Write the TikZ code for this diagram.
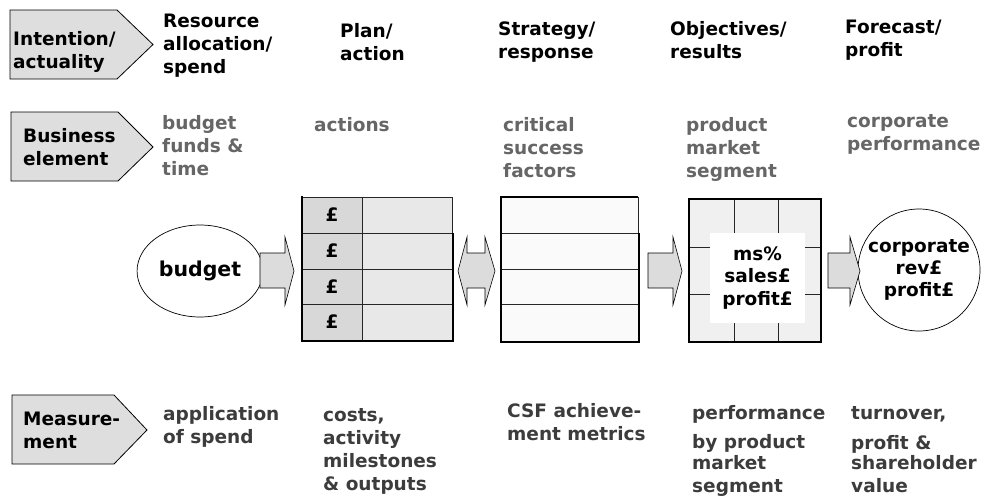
\documentclass[tikz,border=0pt]{standalone}
\usepackage{fontspec}
\setmainfont{DejaVu Sans}
\usetikzlibrary{shapes.geometric}

\begin{document}
\begin{tikzpicture}[x=1pt,y=-1pt,
  tag/.style={draw,fill=taggray,line width=0.8pt},
  txt/.style={font=\bfseries\fontsize{18.5}{23}\selectfont,anchor=base west,align=left,inner sep=0pt},
  elemtxt/.style={txt,text=elemgray},
  meastxt/.style={txt,text=measgray},
  blockarrow/.style={draw,fill=arrowgray,line width=0.6pt},
  thin/.style={draw=black!85,line width=0.9pt},
  thick/.style={line width=2.4pt}]
\definecolor{taggray}{HTML}{DEDEDE}
\definecolor{arrowgray}{HTML}{DCDCDC}
\definecolor{elemgray}{HTML}{666666}
\definecolor{measgray}{HTML}{3C3C3C}
\definecolor{pounddark}{HTML}{D8D8D8}
\definecolor{poundlight}{HTML}{E8E8E8}
\definecolor{csfwhite}{HTML}{FAFAFA}
\definecolor{pmsgray}{HTML}{F0F0F0}
\useasboundingbox (0,0) rectangle (984,501);

% row tags (texts sit on the baseline of their last line)
\draw[tag] (10,10) -- (117,10) -- (153,44.5) -- (117,79) -- (10,79) -- cycle;
\node[txt] (intention) at (13,68) {Intention/\\actuality};
\draw[tag] (11,112) -- (118,112) -- (153,147) -- (118,181) -- (11,181) -- cycle;
\node[txt] (business) at (23,165) {Business\\element};
\draw[tag] (12,395) -- (114,395) -- (147,430) -- (114,464) -- (12,464) -- cycle;
\node[txt] (measurement) at (23,448) {Measure-\\ment};

% column headings
\node[txt] (resource) at (163,73) {Resource\\allocation/\\spend};
\node[txt] (plan) at (340,60) {Plan/\\action};
\node[txt] (strategy) at (498,58) {Strategy/\\response};
\node[txt] (objectives) at (670,58) {Objectives/\\results};
\node[txt] (forecast) at (845,56) {Forecast/\\profit};

% business elements
\node[elemtxt] (funds) at (162,175) {budget\\funds \&\\time};
\node[elemtxt] (actions) at (314,131) {actions};
\node[elemtxt] (csf) at (503,177) {critical\\success\\factors};
\node[elemtxt] (pms) at (686,177) {product\\market\\segment};
\node[elemtxt] (corpperf) at (847,150) {corporate\\performance};

% measurements
\node[meastxt] (application) at (163,443) {application\\of spend};
\node[meastxt] (costs) at (323,490) {costs,\\activity\\milestones\\\& outputs};
\node[meastxt] (metrics) at (507,440) {CSF achieve-\\ment metrics};
\node[meastxt] (performance) at (692,492) {performance\\[6pt]by product\\[-2pt]market\\segment};
\node[meastxt] (turnover) at (851,492) {turnover,\\[7pt]profit \&\\[-3pt]shareholder\\value};

% budget and corporate
\node[draw,ellipse,line width=0.7pt,minimum width=106,minimum height=92,
  font=\bfseries\fontsize{20.5}{24}\selectfont] (budget) at (200,271) {budget};
\node[draw,circle,line width=0.7pt,minimum size=122,inner sep=0pt,align=center,
  font=\bfseries\fontsize{18.5}{22}\selectfont] (corporate) at (919,270) {corporate\\rev£\\profit£};

% plan table
\fill[pounddark] (302,197) rectangle (362,340);
\fill[poundlight] (362,197) rectangle (452,340);
\foreach \ya/\yb/\i in {197/233/1,233/269/2,269/304/3,304/340/4}
  {\draw[thin] (302,\ya) rectangle (362,\yb);
   \draw[thin] (362,\ya) rectangle (452,\yb);
   \node[font=\bfseries\fontsize{18.5}{22}\selectfont] (pound\i) at (332,{(\ya+\yb)/2}) {£};}
\draw[thick] (302,196) -- (302,341) -- (453,341) -- (453,233);

% strategy table
\fill[csfwhite] (501,197) rectangle (638,341);
\foreach \ya/\yb in {197/233,233/269,269/304,304/341}
  {\draw[thin] (501,\ya) rectangle (638,\yb);}
\draw[thick] (501,196) -- (501,342) -- (639,342) -- (639,233);
\draw[line width=1.4pt] (501,197) -- (638,197);

% objectives grid
\fill[pmsgray] (689,199) rectangle (821,342);
\foreach \gx in {734,778}
  {\draw[thin] (\gx,199) -- (\gx,342);}
\foreach \gy in {247,294}
  {\draw[thin] (689,\gy) -- (821,\gy);}
\draw[thick] (689,199) rectangle (821,342);
\node[fill=white,minimum width=95,minimum height=90,inner sep=0pt,align=center,
  font=\bfseries\fontsize{18.5}{22.5}\selectfont] (results) at (757.5,278) {ms\%\\sales£\\profit£};

% block arrows
\foreach \ax/\bx/\hx in {260/285/294,648/673/682,828/850/860}
  {\draw[blockarrow] (\ax,253) -- (\bx,253) -- (\bx,237) -- (\hx,271) -- (\bx,305) -- (\bx,288) -- (\ax,288) -- cycle;}
\draw[blockarrow] (458,271) -- (467,237) -- (467,253) -- (485,253) -- (485,237) -- (495,271)
  -- (485,305) -- (485,288) -- (467,288) -- (467,305) -- cycle;
\end{tikzpicture}
\end{document}
